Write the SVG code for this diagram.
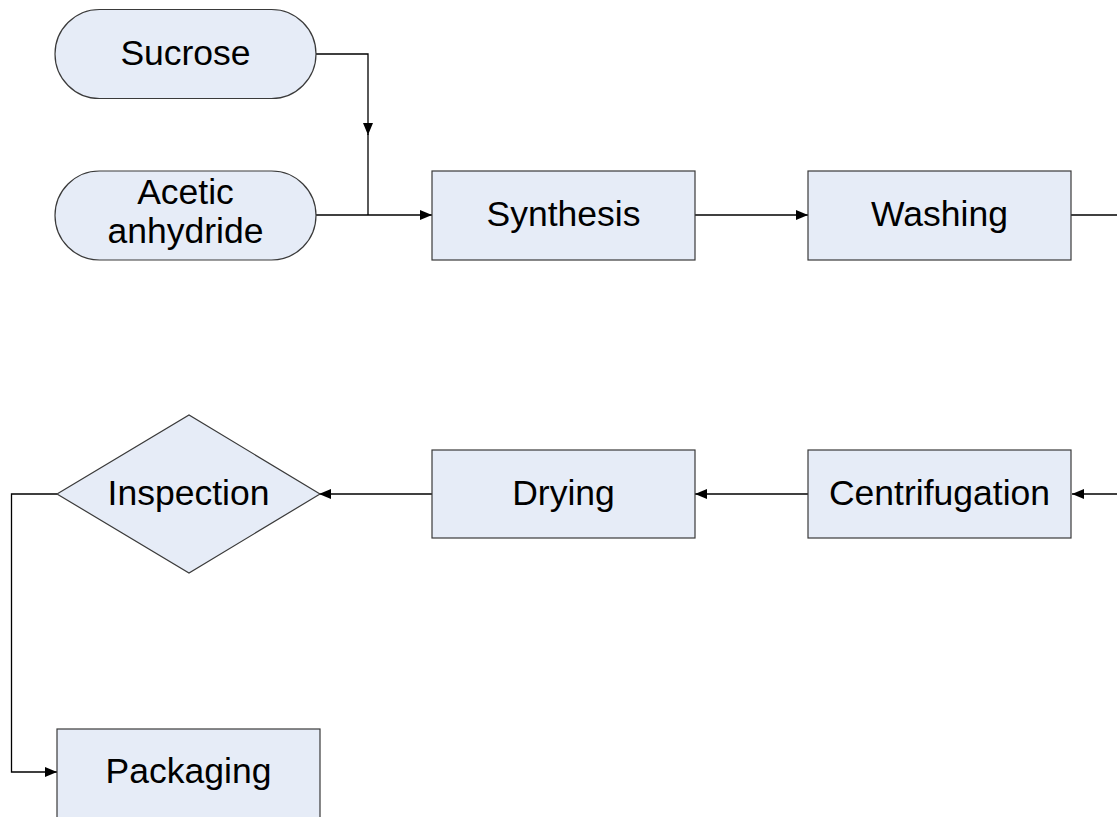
<svg xmlns="http://www.w3.org/2000/svg" width="1117" height="817" viewBox="0 0 1117 817">
<defs>
<style>
.node{fill:#E6ECF7;stroke:#3a3a3a;stroke-width:1.2}
.lbl{font-family:"Liberation Sans",Arial,sans-serif;font-size:35.5px;fill:#000;text-anchor:middle}
.conn{fill:none;stroke:#000;stroke-width:1.3}
</style>
<marker id="arr" viewBox="0 0 12 10" refX="12" refY="5" markerWidth="12" markerHeight="10" markerUnits="userSpaceOnUse" orient="auto">
<path d="M0,0 L12,5 L0,10 z" fill="#000"/>
</marker>
</defs>
<rect width="1117" height="817" fill="#fff"/>
<g id="connectors">
<path class="conn" d="M316,54 H368 V135" marker-end="url(#arr)"/>
<path class="conn" d="M368,134 V215"/>
<path class="conn" d="M316,215 H432" marker-end="url(#arr)"/>
<path class="conn" d="M695,215 H808" marker-end="url(#arr)"/>
<path class="conn" d="M1071,215 H1117"/>
<path class="conn" d="M1117,494 H1072" marker-end="url(#arr)"/>
<path class="conn" d="M808,494 H695" marker-end="url(#arr)"/>
<path class="conn" d="M432,494 H319" marker-end="url(#arr)"/>
<path class="conn" d="M57,494 H11.5 V772 H57" marker-end="url(#arr)"/>
</g>
<g id="sucrose">
<rect class="node" x="55" y="9.5" width="261" height="89" rx="44.5" ry="44.5"/>
<text class="lbl" x="185.5" y="65">Sucrose</text>
</g>
<g id="acetic-anhydride">
<rect class="node" x="55" y="171" width="261" height="89" rx="44.5" ry="44.5"/>
<text class="lbl" x="185.5" y="204">Acetic</text>
<text class="lbl" x="185.5" y="243">anhydride</text>
</g>
<g id="synthesis">
<rect class="node" x="432" y="171" width="263" height="89"/>
<text class="lbl" x="563.5" y="226">Synthesis</text>
</g>
<g id="washing">
<rect class="node" x="808" y="171" width="263" height="89"/>
<text class="lbl" x="939.5" y="226">Washing</text>
</g>
<g id="centrifugation">
<rect class="node" x="808" y="450" width="263" height="88"/>
<text class="lbl" x="939.5" y="505">Centrifugation</text>
</g>
<g id="drying">
<rect class="node" x="432" y="450" width="263" height="88"/>
<text class="lbl" x="563.5" y="505">Drying</text>
</g>
<g id="inspection">
<polygon class="node" points="57,494 189,415 320,494 189,573"/>
<text class="lbl" x="188.5" y="505">Inspection</text>
</g>
<g id="packaging">
<rect class="node" x="57" y="729" width="263" height="89"/>
<text class="lbl" x="188.5" y="783">Packaging</text>
</g>
</svg>
